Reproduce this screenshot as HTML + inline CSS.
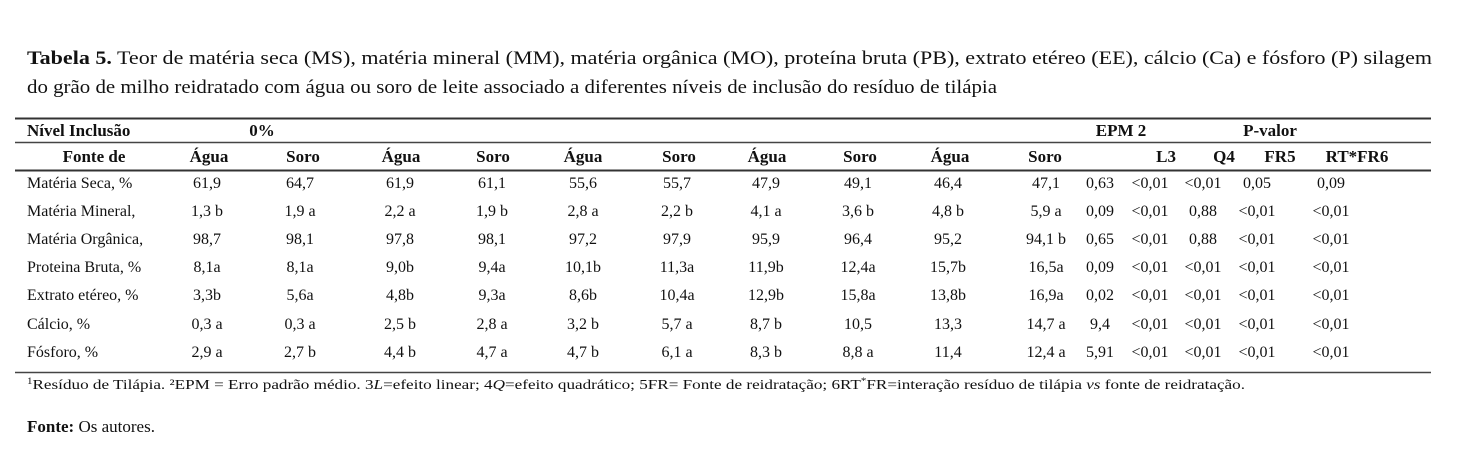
<!DOCTYPE html>
<html><head><meta charset="utf-8"><style>
html,body{margin:0;padding:0;background:#fff;}
svg{display:block;font-family:"Liberation Serif",serif;fill:#111;}
.b{font-weight:bold;}
</style></head><body>
<svg width="1476" height="463" viewBox="0 0 1476 463">
<text x="27" y="64" font-size="19" textLength="1405" lengthAdjust="spacingAndGlyphs"><tspan class="b">Tabela 5.</tspan> Teor de matéria seca (MS), matéria mineral (MM), matéria orgânica (MO), proteína bruta (PB), extrato etéreo (EE), cálcio (Ca) e fósforo (P) silagem</text>
<text x="27" y="93" font-size="19" textLength="970" lengthAdjust="spacingAndGlyphs">do grão de milho reidratado com água ou soro de leite associado a diferentes níveis de inclusão do resíduo de tilápia</text>
<line x1="15" y1="118.5" x2="1431" y2="118.5" stroke="#333" stroke-width="2"/>
<line x1="15" y1="142.5" x2="1431" y2="142.5" stroke="#444" stroke-width="1.5"/>
<line x1="15" y1="170.5" x2="1431" y2="170.5" stroke="#333" stroke-width="2"/>
<line x1="15" y1="372.5" x2="1431" y2="372.5" stroke="#444" stroke-width="1.5"/>
<g font-size="17" class="b">
<text x="27" y="136">Nível Inclusão</text>
<text x="262" y="136" text-anchor="middle">0%</text>
<text x="1121" y="136" text-anchor="middle">EPM 2</text>
<text x="1270" y="136" text-anchor="middle">P-valor</text>
</g>
<g font-size="17" class="b" text-anchor="middle">
<text x="94" y="162">Fonte de</text>
<text x="209" y="162">Água</text><text x="303" y="162">Soro</text>
<text x="401" y="162">Água</text><text x="493" y="162">Soro</text>
<text x="583" y="162">Água</text><text x="679" y="162">Soro</text>
<text x="767" y="162">Água</text><text x="860" y="162">Soro</text>
<text x="950" y="162">Água</text><text x="1045" y="162">Soro</text>
<text x="1176" y="162" text-anchor="end">L3</text>
<text x="1224" y="162">Q4</text><text x="1280" y="162">FR5</text><text x="1357" y="162">RT*FR6</text>
</g>
<g font-size="16" text-anchor="middle" id="rows">
</g>
<text x="27" y="389" font-size="14" textLength="1218" lengthAdjust="spacingAndGlyphs"><tspan font-size="9" dy="-5">1</tspan><tspan dy="5">Resíduo de Tilápia. ²EPM = Erro padrão médio. 3</tspan><tspan font-style="italic">L</tspan>=efeito linear; 4<tspan font-style="italic">Q</tspan>=efeito quadrático; 5FR= Fonte de reidratação; 6RT<tspan font-size="9" dy="-5">*</tspan><tspan dy="5">FR=interação resíduo de tilápia </tspan><tspan font-style="italic">vs</tspan> fonte de reidratação.</text>
<text x="27" y="432" font-size="17"><tspan class="b">Fonte:</tspan> Os autores.</text>
<script>
var rows=[
["Matéria Seca, %","61,9","64,7","61,9","61,1","55,6","55,7","47,9","49,1","46,4","47,1","0,63","<0,01","<0,01","0,05","0,09"],
["Matéria Mineral,","1,3 b","1,9 a","2,2 a","1,9 b","2,8 a","2,2 b","4,1 a","3,6 b","4,8 b","5,9 a","0,09","<0,01","0,88","<0,01","<0,01"],
["Matéria Orgânica,","98,7","98,1","97,8","98,1","97,2","97,9","95,9","96,4","95,2","94,1 b","0,65","<0,01","0,88","<0,01","<0,01"],
["Proteina Bruta, %","8,1a","8,1a","9,0b","9,4a","10,1b","11,3a","11,9b","12,4a","15,7b","16,5a","0,09","<0,01","<0,01","<0,01","<0,01"],
["Extrato etéreo, %","3,3b","5,6a","4,8b","9,3a","8,6b","10,4a","12,9b","15,8a","13,8b","16,9a","0,02","<0,01","<0,01","<0,01","<0,01"],
["Cálcio, %","0,3 a","0,3 a","2,5 b","2,8 a","3,2 b","5,7 a","8,7 b","10,5","13,3","14,7 a","9,4","<0,01","<0,01","<0,01","<0,01"],
["Fósforo, %","2,9 a","2,7 b","4,4 b","4,7 a","4,7 b","6,1 a","8,3 b","8,8 a","11,4","12,4 a","5,91","<0,01","<0,01","<0,01","<0,01"]];
var xs=[0,207,300,400,492,583,677,766,858,948,1046,1100,1150,1203,1257,1331];
var ys=[188,216,244,272,300,329,357];
var g=document.getElementById("rows"),ns="http://www.w3.org/2000/svg";
rows.forEach(function(r,i){r.forEach(function(v,j){var t=document.createElementNS(ns,"text");
if(j==0){t.setAttribute("x",27);t.setAttribute("text-anchor","start");}else t.setAttribute("x",xs[j]);
t.setAttribute("y",ys[i]);t.textContent=v;g.appendChild(t);});});
</script>
</svg>
</body></html>
